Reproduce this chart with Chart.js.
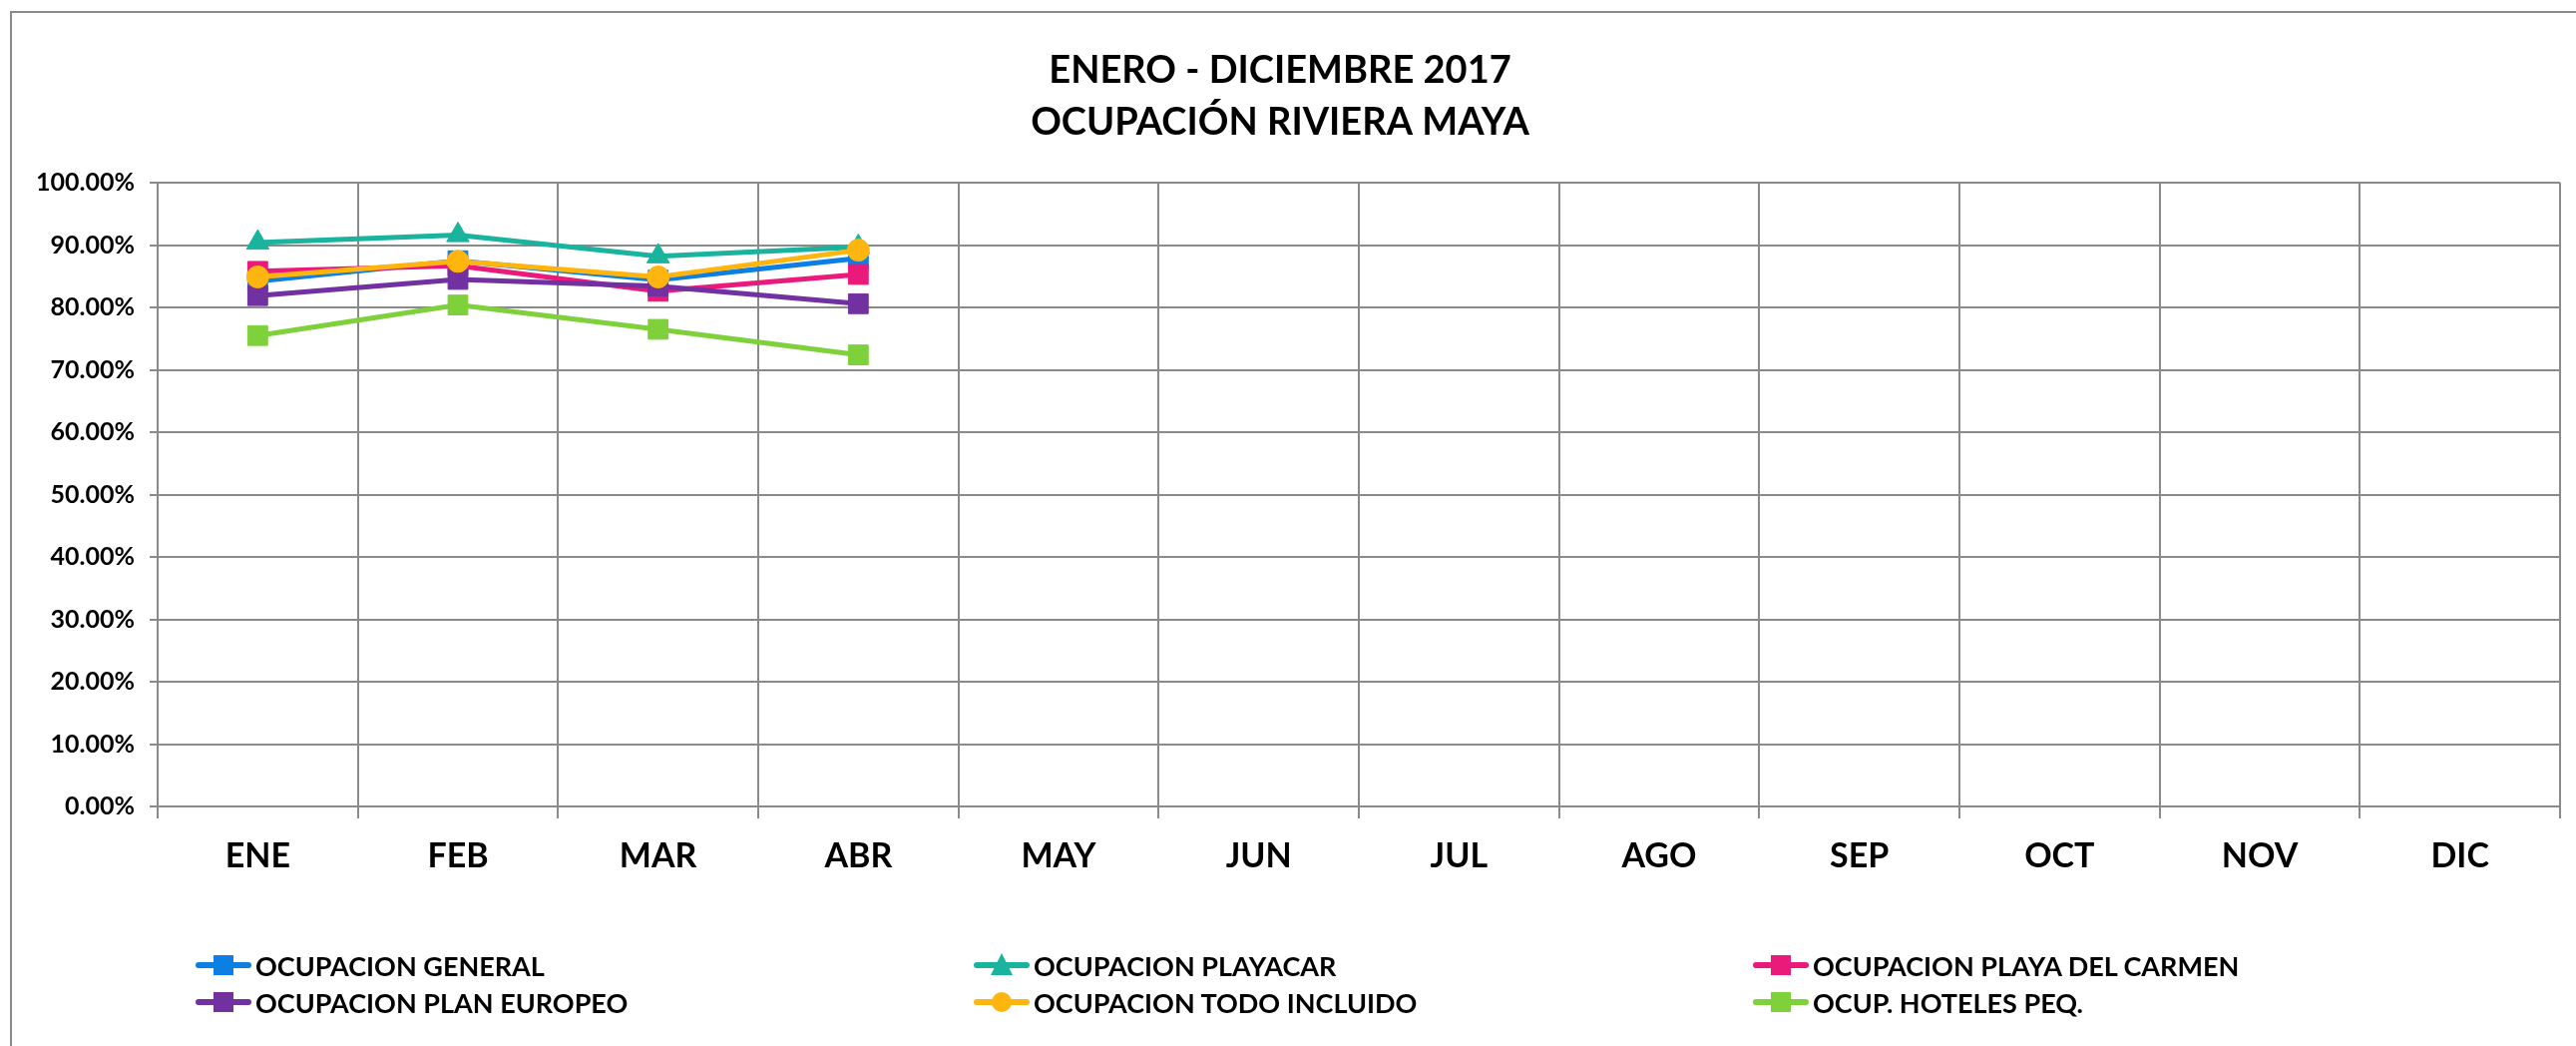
<!DOCTYPE html>
<html lang="es">
<head>
<meta charset="UTF-8">
<title>Ocupación Riviera Maya 2017</title>
<script src="https://cdn.jsdelivr.net/npm/chart.js"></script>
<style>
    body { margin: 0; background: #fff; }
    #wrap { position: relative; width: 2582px; height: 1048px; overflow: hidden; }
    #frame {
        position: absolute; left: 10px; top: 11px; width: 2600px; height: 1100px;
        border: 2px solid #8a8a8a; box-sizing: border-box;
    }
    #chart { position: absolute; left: 0; top: 0; }
    .legend-item {
        position: absolute; height: 36px; display: flex; align-items: center;
        font-family: Lato, "Open Sans", sans-serif; font-weight: bold; font-size: 27px; color: #000;
        white-space: nowrap;
    }
    .legend-mark { position: relative; width: 56px; height: 24px; margin-right: 4px; }
    .legend-mark .bar {
        position: absolute; left: 0; right: 0; top: 9px; height: 6px; border-radius: 3px;
    }
    .legend-mark .shape { position: absolute; }
</style>
</head>
<body>
<div id="wrap">
    <div id="frame"></div>
    <canvas id="chart" width="2582" height="1048"></canvas>
    <div id="legend"></div>
</div>
<script>
    var months = ['ENE', 'FEB', 'MAR', 'ABR', 'MAY', 'JUN', 'JUL', 'AGO', 'SEP', 'OCT', 'NOV', 'DIC'];

    // valores en %, solo enero-abril
    var general = [84.2, 87.5, 84.4, 87.9, null, null, null, null, null, null, null, null];
    var playacar = [90.4, 91.6, 88.2, 89.7, null, null, null, null, null, null, null, null];
    var playaCarmen = [85.8, 86.7, 82.6, 85.3, null, null, null, null, null, null, null, null];
    var planEuropeo = [81.9, 84.5, 83.4, 80.6, null, null, null, null, null, null, null, null];
    var todoIncluido = [84.9, 87.4, 84.9, 89.2, null, null, null, null, null, null, null, null];
    var hotelesPeq = [75.5, 80.4, 76.5, 72.4, null, null, null, null, null, null, null, null];

    var yTicks = [0, 10, 20, 30, 40, 50, 60, 70, 80, 90, 100];

    var gridColor = '#8a8a8a';
    var font = 'Lato, "Open Sans", sans-serif';

    function series(label, data, color, style, radius, order) {
        return {
            label: label,
            data: data,
            borderColor: color,
            backgroundColor: color,
            borderWidth: 5,
            pointStyle: style,
            pointRadius: radius,
            pointHoverRadius: radius,
            pointBorderWidth: 1,
            pointBorderColor: color,
            pointBackgroundColor: color,
            tension: 0,
            spanGaps: false,
            order: order
        };
    }

    var datasets = [
        series('OCUPACION GENERAL', general, '#0B7FE3', 'rect', 14, 6),
        series('OCUPACION PLAYACAR', playacar, '#1AB39E', 'triangle', 13, 5),
        series('OCUPACION PLAYA DEL CARMEN', playaCarmen, '#EA1A7B', 'rect', 14, 4),
        series('OCUPACION PLAN EUROPEO', planEuropeo, '#7231A0', 'rect', 14, 3),
        series('OCUPACION TODO INCLUIDO', todoIncluido, '#FFB50F', 'circle', 11, 2),
        series('OCUP. HOTELES PEQ.', hotelesPeq, '#7FD13B', 'rect', 14, 1)
    ];

    var ctx = document.getElementById('chart').getContext('2d');
    var chart = new Chart(ctx, {
        type: 'line',
        data: { labels: months, datasets: datasets },
        options: {
            responsive: false,
            animation: false,
            layout: { padding: { left: 0, right: 16, top: 0, bottom: 0 } },
            plugins: {
                legend: { display: false },
                tooltip: { enabled: false },
                title: {
                    display: true,
                    text: ['ENERO - DICIEMBRE 2017', 'OCUPACIÓN RIVIERA MAYA'],
                    color: '#000',
                    font: { family: font, size: 38, weight: 'bold', lineHeight: 1.37 },
                    padding: { top: 45, bottom: 34 }
                }
            },
            scales: {
                x: {
                    offset: true,
                    grid: { offset: true, color: gridColor, lineWidth: 2, tickLength: 12, tickColor: gridColor },
                    border: { color: gridColor, width: 2 },
                    ticks: {
                        color: '#000', padding: 18, maxRotation: 0, autoSkip: false,
                        font: { family: font, size: 34, weight: 'bold' }
                    },
                    afterFit: function (scale) { scale.height = 240; }
                },
                y: {
                    min: 0,
                    max: 100,
                    afterBuildTicks: function (scale) {
                        scale.ticks = yTicks.map(function (v) { return { value: v }; });
                    },
                    grid: { color: gridColor, lineWidth: 2, tickLength: 8, tickColor: gridColor },
                    border: { color: gridColor, width: 2 },
                    ticks: {
                        color: '#000', padding: 15,
                        font: { family: font, size: 25, weight: 'bold' },
                        callback: function (v) { return v.toFixed(2) + '%'; }
                    },
                    afterFit: function (scale) { scale.width = 158; }
                }
            }
        }
    });

    // leyenda en tres columnas como en el original
    var legendCols = [196, 976, 1757];
    var legendRows = [967, 1004];
    var legend = document.getElementById('legend');
    datasets.forEach(function (ds, i) {
        var item = document.createElement('div');
        item.className = 'legend-item';
        item.style.left = legendCols[i % 3] + 'px';
        item.style.top = (legendRows[Math.floor(i / 3)] - 18) + 'px';

        var mark = document.createElement('div');
        mark.className = 'legend-mark';
        var bar = document.createElement('div');
        bar.className = 'bar';
        bar.style.background = ds.borderColor;
        mark.appendChild(bar);

        var shape = document.createElement('div');
        shape.className = 'shape';
        if (ds.pointStyle === 'triangle') {
            shape.style.left = '17px';
            shape.style.top = '0px';
            shape.style.width = '0';
            shape.style.height = '0';
            shape.style.borderLeft = '11px solid transparent';
            shape.style.borderRight = '11px solid transparent';
            shape.style.borderBottom = '22px solid ' + ds.borderColor;
        } else {
            shape.style.left = '18px';
            shape.style.top = '2px';
            shape.style.width = '20px';
            shape.style.height = '20px';
            shape.style.background = ds.borderColor;
            if (ds.pointStyle === 'circle') shape.style.borderRadius = '50%';
        }
        mark.appendChild(shape);

        var text = document.createElement('span');
        text.textContent = ds.label;
        item.appendChild(mark);
        item.appendChild(text);
        legend.appendChild(item);
    });
</script>
</body>
</html>
